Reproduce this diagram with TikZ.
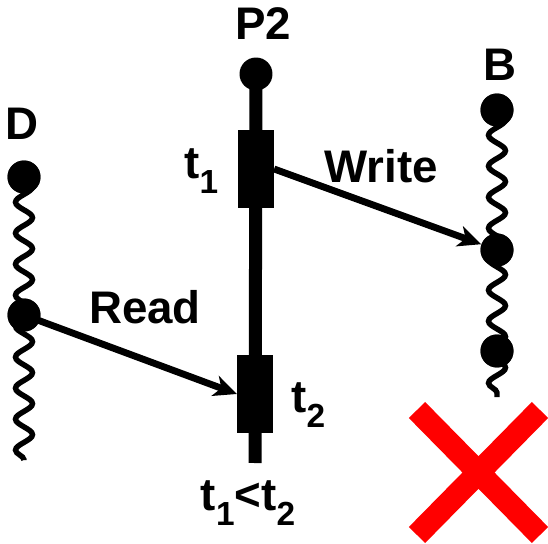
\documentclass[tikz,border=0pt]{standalone}
\usepackage{fontspec}
\setmainfont{Liberation Sans}
\usetikzlibrary{arrows.meta,decorations.pathmorphing}

\newcommand{\lblfont}{\fontsize{26}{30}\selectfont\bfseries}
\newcommand{\tsub}[1]{\raisebox{-0.33em}{\fontsize{19}{19}\selectfont #1}}

\tikzset{
  dot/.style={circle,fill=black,inner sep=0pt,minimum size=0.66cm},
  evt/.style={rectangle,fill=black,inner sep=0pt,minimum width=0.71cm,minimum height=1.56cm},
  lbl/.style={font=\lblfont,inner sep=0pt},
  wavy/.style={line width=3.1pt,decorate,decoration={snake,amplitude=0.17cm,segment length=0.62cm}},
  msg/.style={line width=3.9pt,-{Stealth[length=0.46cm,width=0.42cm,inset=0.13cm]}},
  cross/.style={line width=13pt,red},
}

\begin{document}
\begin{tikzpicture}[x=0.02cm,y=-0.02cm]
			\useasboundingbox (0,0) rectangle (548,544);
			% process D
			\coordinate (dend) at (24,460);
			\node[dot](d1) at (24,177) {};
			\node[dot](d2) at (24,315) {};
			\draw[wavy] (d1.center)--(dend);
			\node[dot] at (d1) {};
			\node[dot] at (d2) {};
			\node[lbl,anchor=base](ld) at (22,140) {D};
			% process B
			\coordinate (bend) at (497,397);
			\node[dot](b1) at (497,110) {};
			\node[dot](b2) at (497,250) {};
			\node[dot](b3) at (497,351) {};
			\draw[wavy] (b1.center)--(bend);
			\node[dot] at (b1) {};
			\node[dot] at (b2) {};
			\node[dot] at (b3) {};
			\node[lbl,anchor=base](lb) at (500,81) {B};
			% process P2
			\coordinate (pend) at (255,463);
			\node[dot](p) at (256,74) {};
			\draw[line width=7.4pt] (p.center)--(pend);
			\node[evt](e1) at (256,169) {};
			\node[evt](e2) at (255,394) {};
			\node[lbl,anchor=base](lp) at (263,40) {P2};
			\node[lbl,anchor=base west](lt1) at (184,178) {t\tsub{1}};
			\node[lbl,anchor=base west](lt2) at (291,412) {t\tsub{2}};
			\node[lbl,anchor=base](lorder) at (248,510) {t\tsub{1}<t\tsub{2}};
			% messages
			\draw[msg] (e1.east)--(b2);
			\draw[msg] (d2.center)--(e2.west);
			\node[lbl,anchor=base](lw) at (381,183) {Write};
			\node[lbl,anchor=base](lr) at (145,323) {Read};
			% red cross
			\coordinate (x1) at (417,410);
			\coordinate (x2) at (540,535);
			\coordinate (x3) at (540,410);
			\coordinate (x4) at (417,535);
			\draw[cross] (x1)--(x2);
			\draw[cross] (x3)--(x4);
		\end{tikzpicture}
\end{document}
